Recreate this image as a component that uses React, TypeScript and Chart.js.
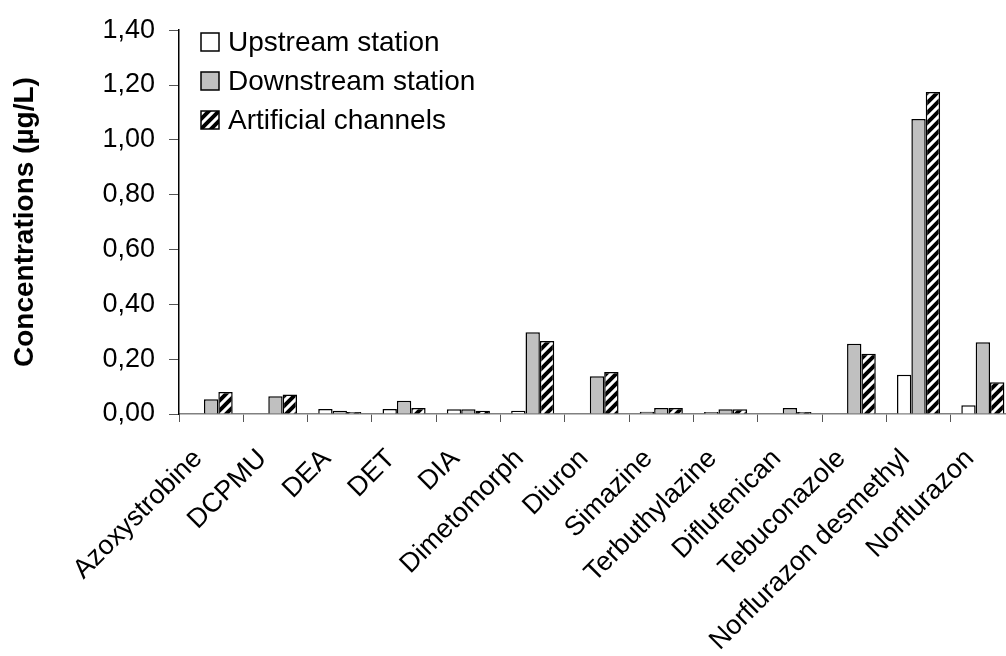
import React, { useEffect, useRef } from "react";
import { Chart, registerables } from "chart.js";

Chart.register(...registerables);

const categories = [
  "Azoxystrobine",
  "DCPMU",
  "DEA",
  "DET",
  "DIA",
  "Dimetomorph",
  "Diuron",
  "Simazine",
  "Terbuthylazine",
  "Diflufenican",
  "Tebuconazole",
  "Norflurazon desmethyl",
  "Norflurazon",
];
const seriesNames = ["Upstream station", "Downstream station", "Artificial channels"];
const upstream = [0, 0, 0.018, 0.018, 0.017, 0.012, 0, 0.008, 0.007, 0, 0, 0.143, 0.032];
const downstream = [0.054, 0.065, 0.012, 0.048, 0.017, 0.298, 0.138, 0.022, 0.017, 0.022, 0.256, 1.076, 0.262];
const artificial = [0.08, 0.071, 0.007, 0.022, 0.012, 0.266, 0.153, 0.022, 0.017, 0.007, 0.22, 1.175, 0.116];
const yMin = 0;
const yMax = 1.4;
const yStep = 0.2;
const yTitle = "Concentrations (µg/L)";

const FONT = '"Liberation Sans", Arial, Helvetica, sans-serif';
const W = 1040;
const H = 656;

function makeHatch(): CanvasPattern | string {
  const c = document.createElement("canvas");
  const s = 10;
  c.width = s;
  c.height = s;
  const g = c.getContext("2d");
  if (!g) return "#000";
  g.fillStyle = "#fff";
  g.fillRect(0, 0, s, s);
  g.strokeStyle = "#000";
  g.lineWidth = 4;
  g.lineCap = "square";
  for (const off of [-s, 0, s]) {
    g.beginPath();
    g.moveTo(off - 2, s + 2);
    g.lineTo(off + s + 2, -2);
    g.stroke();
  }
  return g.createPattern(c, "repeat") || "#000";
}

const legendPlugin = {
  id: "insideLegend",
  afterDraw(chart: any) {
    const ctx = chart.ctx as CanvasRenderingContext2D;
    ctx.save();
    chart.data.datasets.forEach((ds: any, i: number) => {
      const cy = 42 + i * 39;
      ctx.fillStyle = ds.backgroundColor;
      ctx.fillRect(201, cy - 9, 18, 18);
      ctx.strokeStyle = "#000";
      ctx.lineWidth = 1.5;
      ctx.strokeRect(201, cy - 9, 18, 18);
      ctx.fillStyle = "#000";
      ctx.font = `28px ${FONT}`;
      ctx.textBaseline = "middle";
      ctx.textAlign = "left";
      ctx.fillText(ds.label, 228, cy + 1);
    });
    ctx.restore();
  },
};

export default function App() {
  const ref = useRef<HTMLCanvasElement | null>(null);

  useEffect(() => {
    if (!ref.current) return;
    const hatch = makeHatch();
    const common = {
      borderColor: "#000",
      borderWidth: 1.5,
      categoryPercentage: 0.67,
      barPercentage: 1.0,
    };
    const chart = new Chart(ref.current, {
      type: "bar",
      data: {
        labels: categories,
        datasets: [
          { label: seriesNames[0], data: upstream, backgroundColor: "#ffffff", ...common },
          { label: seriesNames[1], data: downstream, backgroundColor: "#c0c0c0", ...common },
          { label: seriesNames[2], data: artificial, backgroundColor: hatch as any, ...common },
        ],
      },
      options: {
        animation: false,
        responsive: false,
        devicePixelRatio: 1,
        layout: { padding: { left: 0, right: 25, top: 24, bottom: 0 } },
        plugins: {
          legend: { display: false },
          tooltip: { enabled: false },
        },
        scales: {
          x: {
            grid: {
              display: true,
              drawOnChartArea: false,
              drawTicks: true,
              tickLength: 8,
              color: "#555",
              offset: true,
            },
            border: { display: true, color: "#808080", width: 1.5 },
            ticks: {
              autoSkip: false,
              minRotation: 45,
              maxRotation: 45,
              color: "#000",
              padding: 21,
              labelOffset: -13,
              font: { family: FONT, size: 27 },
            },
            afterFit(scale: any) {
              scale.height = 242;
            },
          },
          y: {
            min: yMin,
            max: yMax,
            grid: {
              display: true,
              drawOnChartArea: false,
              drawTicks: true,
              tickLength: 10,
              color: "#555",
            },
            border: { display: true, color: "#000", width: 1.5 },
            ticks: {
              stepSize: yStep,
              color: "#000",
              padding: 14,
              font: { family: FONT, size: 27 },
              callback: (v: any) => Number(v).toFixed(2).replace(".", ","),
            },
            title: {
              display: true,
              text: yTitle,
              color: "#000",
              font: { family: FONT, size: 28, weight: "bold" },
              padding: { top: 8, bottom: 0 },
            },
            afterFit(scale: any) {
              scale.width = 179;
            },
          },
        },
      },
      plugins: [legendPlugin],
    });
    return () => chart.destroy();
  }, []);

  return (
    <div
      style={{
        position: "absolute",
        left: 0,
        top: 0,
        width: 1006,
        height: 656,
        overflow: "hidden",
        background: "#fff",
      }}
    >
      <canvas ref={ref} width={W} height={H} style={{ width: W, height: H, display: "block" }} />
    </div>
  );
}
